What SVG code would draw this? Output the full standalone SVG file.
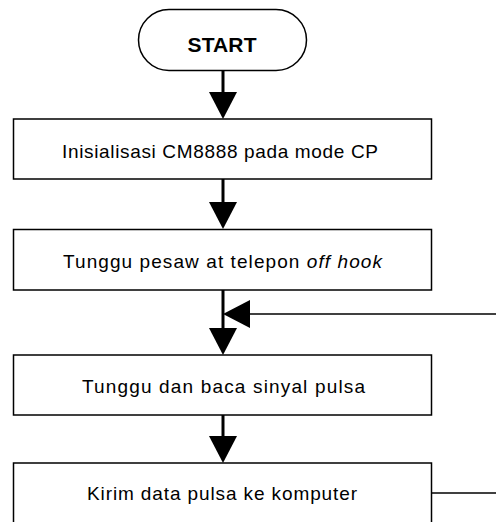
<svg xmlns="http://www.w3.org/2000/svg" width="496" height="522" viewBox="0 0 496 522">
  <style>
    .box { fill: #ffffff; stroke: #000000; stroke-width: 1.5; }
    .lbl { font-family: "Liberation Sans", Arial, sans-serif; font-size: 19px; fill: #000000; text-anchor: middle; }
    .title { font-family: "Liberation Sans", Arial, sans-serif; font-size: 21px; font-weight: bold; fill: #000000; text-anchor: middle; }
    .flow { fill: none; stroke: #000000; stroke-width: 3; }
    .back { fill: none; stroke: #000000; stroke-width: 1.5; }
  </style>
  <defs>
    <!-- solid triangular head; the path ends at the head's base -->
    <marker id="head" viewBox="0 0 27 28" refX="0" refY="14" markerWidth="27" markerHeight="28" markerUnits="userSpaceOnUse" orient="auto">
      <path d="M0,0 L27,14 L0,28 Z" fill="#000000"/>
    </marker>
  </defs>

  <rect width="496" height="522" fill="#ffffff"/>

  <!-- connectors -->
  <g id="connectors">
    <path class="flow" d="M223,71 V92" marker-end="url(#head)"/>
    <path class="flow" d="M223,179 V202" marker-end="url(#head)"/>
    <path class="flow" d="M223,290 V328" marker-end="url(#head)"/>
    <path class="flow" d="M223,415 V436" marker-end="url(#head)"/>
    <!-- loop back from the last step into the wait step -->
    <path class="back" d="M496,314 H250" marker-end="url(#head)"/>
    <path class="back" d="M431.5,493 H496"/>
  </g>

  <g id="start">
    <rect class="box" x="138.5" y="9.5" width="168" height="61" rx="30.5" ry="30.5"/>
    <text class="title" x="222" y="51.5" textLength="69" lengthAdjust="spacing">START</text>
  </g>

  <g id="init">
    <rect class="box" x="13.5" y="119" width="418" height="60"/>
    <text class="lbl" x="220" y="158" textLength="316" lengthAdjust="spacing">Inisialisasi CM8888 pada mode CP</text>
  </g>

  <g id="wait-offhook">
    <rect class="box" x="13.5" y="229.5" width="418" height="60.5"/>
    <text class="lbl" x="222.5" y="268" textLength="319" lengthAdjust="spacing">Tunggu pesaw at telepon <tspan font-style="italic">off hook</tspan></text>
  </g>

  <g id="read-pulse">
    <rect class="box" x="13.5" y="355" width="418" height="60"/>
    <text class="lbl" x="223.5" y="393" textLength="283" lengthAdjust="spacing">Tunggu dan baca sinyal pulsa</text>
  </g>

  <g id="send-data">
    <rect class="box" x="13.5" y="463" width="418" height="62"/>
    <text class="lbl" x="222" y="500" textLength="270" lengthAdjust="spacing">Kirim data pulsa ke komputer</text>
  </g>
</svg>
